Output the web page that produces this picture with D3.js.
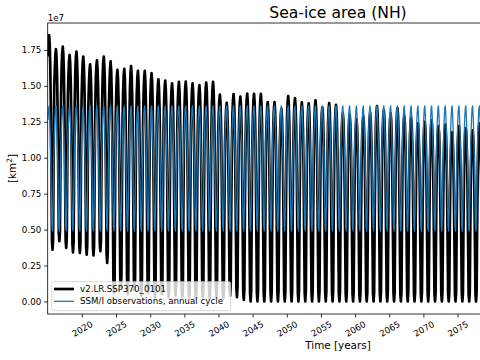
<!DOCTYPE html>
<html><head><meta charset="utf-8">
<script src="https://cdn.jsdelivr.net/npm/d3@7"></script>
<style>
html,body{margin:0;padding:0;background:#fff;}
text{font-family:"DejaVu Sans",sans-serif;}
</style></head>
<body><svg id="c" width="480" height="360"></svg>
<script>
// ---- data ----
const years = d3.range(2015, 2079);
// annual maximum (March) of the model run, units 1e7 km^2
const modelAnnualMax = [1.854,1.755,1.773,1.715,1.738,1.703,1.650,1.678,1.703,1.671,
  1.611,1.618,1.637,1.604,1.604,1.588,1.546,1.537,1.518,1.528,
  1.530,1.518,1.505,1.523,1.528,1.440,1.382,1.442,1.426,1.447,
  1.444,1.444,1.387,1.387,1.340,1.428,1.414,1.385,1.378,1.400,
  1.350,1.380,1.368,1.310,1.300,1.270,1.287,1.310,1.360,1.330,
  1.310,1.345,1.290,1.280,1.240,1.250,1.260,1.220,1.230,1.176,
  1.220,1.205,1.190,1.240];
// annual minimum (September) of the model run, units 1e7 km^2
const modelAnnualMin = [0.360,0.420,0.372,0.342,0.338,0.326,0.320,0.350,0.268,0.060,
  0.100,0.050,0.080,0.040,0.060,0.030,0.050,0.030,0.040,0.030,
  0.030,0.020,0.030,0.020,0.030,0.020,0.040,0.030,0.010,0.000,
  0.000,0.000,0.000,0.000,0.000,0.000,0.000,0.000,0.000,0.000,
  0.000,0.000,0.000,0.000,0.000,0.000,0.000,0.000,0.000,0.000,
  0.000,0.000,0.000,0.000,0.000,0.000,0.000,0.000,0.000,0.000,
  0.000,0.000,0.000,0.000];
// relative position of each month between the annual min and max (Jan..Dec)
const modelSeasonShape = [0.90,0.97,1.00,0.96,0.86,0.66,0.36,0.04,0.00,0.05,0.45,0.76];
// SSM/I observed climatological annual cycle (Jan..Dec), units 1e7 km^2
const obsClimatology = [1.262,1.340,1.361,1.290,1.160,0.990,0.730,0.520,0.490,0.660,0.930,1.140];
const xTicks = [2020,2025,2030,2035,2040,2045,2050,2055,2060,2065,2070,2075];
const yTicks = [0.00,0.25,0.50,0.75,1.00,1.25,1.50,1.75];
const seriesNames = ["v2.LR.SSP370_0101","SSM/I observations, annual cycle"];
const seriesColors = ["#000000","#1f77b4"];

// ---- monthly tables built from the arrays ----
const model = [], obs = [];
years.forEach((yr, i) => {
  for (let m = 0; m < 12; m++) {
    const t = yr + (m + 0.5) / 12;
    model.push({t, v: modelAnnualMin[i] + (modelAnnualMax[i] - modelAnnualMin[i]) * modelSeasonShape[m]});
    obs.push({t, v: obsClimatology[m]});
  }
});

// ---- layout ----
const svg = d3.select("#c");
const L = 47.7, R = 628.3, T = 23, B = 314;
const x = d3.scaleLinear().domain([2015, 2100]).range([L, R]);
const y = d3.scaleLinear().domain([-0.0875, 1.9375]).range([B, T]);

svg.append("defs").append("clipPath").attr("id","clip")
  .append("rect").attr("x",L).attr("y",T).attr("width",R-L).attr("height",B-T);

const line = d3.line().x(d => x(d.t)).y(d => y(d.v));
const g = svg.append("g").attr("clip-path","url(#clip)");
g.append("path").datum(model).attr("d", line).attr("fill","none")
  .attr("stroke", seriesColors[0]).attr("stroke-width", 2.7).attr("stroke-linejoin","round");
g.append("path").datum(obs).attr("d", line).attr("fill","none")
  .attr("stroke", seriesColors[1]).attr("stroke-width", 1.3).attr("stroke-linejoin","round");

// spines
const sp = svg.append("g").attr("stroke","#000").attr("stroke-width",0.8).attr("fill","none");
sp.append("rect").attr("x",L).attr("y",T).attr("width",R-L).attr("height",B-T);

// y axis
const yAx = svg.append("g").attr("transform",`translate(${L},0)`)
  .call(d3.axisLeft(y).tickValues(yTicks).tickFormat(d3.format(".2f")).tickSize(3.5).tickPadding(3));
yAx.select(".domain").remove();
yAx.selectAll("line").attr("stroke","#000").attr("stroke-width",0.8);
yAx.selectAll("text").attr("font-size","8.7px").attr("fill","#000").attr("font-family","DejaVu Sans");

// x axis
const xAx = svg.append("g").attr("transform",`translate(0,${B})`)
  .call(d3.axisBottom(x).tickValues(xTicks).tickFormat(d3.format("d")).tickSize(3.5));
xAx.select(".domain").remove();
xAx.selectAll("line").attr("stroke","#000").attr("stroke-width",0.8);
xAx.selectAll("text").attr("font-size","8.7px").attr("fill","#000").attr("font-family","DejaVu Sans")
  .attr("y",null).attr("dy",null).attr("text-anchor","middle").attr("dominant-baseline","central")
  .attr("transform","translate(0,15) rotate(-30)");

// offset text, title, labels
svg.append("text").attr("x",L).attr("y",20.7).attr("font-size","8.7px").text("1e7");
svg.append("text").attr("x",(L+R)/2).attr("y",18).attr("text-anchor","middle")
  .attr("font-size","15.6px").text("Sea-ice area (NH)");
svg.append("text").attr("x",(L+R)/2).attr("y",349).attr("text-anchor","middle")
  .attr("font-size","10.4px").text("Time [years]");
const yl = svg.append("text").attr("transform",`translate(16,${(T+B)/2}) rotate(-90)`)
  .attr("text-anchor","middle").attr("font-size","10.4px");
yl.append("tspan").text("[km");
yl.append("tspan").attr("font-size","7.3px").attr("dy","-4").text("2");
yl.append("tspan").attr("dy","4").text("]");

// legend
const lg = svg.append("g");
lg.append("rect").attr("x",51.7).attr("y",281.7).attr("width",179).attr("height",29).attr("rx",2)
  .attr("fill","#fff").attr("fill-opacity",0.8).attr("stroke","#ccc").attr("stroke-width",0.8);
seriesNames.forEach((n,i) => {
  const yy = 289 + i*12.3;
  lg.append("line").attr("x1",54).attr("x2",74).attr("y1",yy).attr("y2",yy)
    .attr("stroke",seriesColors[i]).attr("stroke-width", i===0?2.7:1.3);
  lg.append("text").attr("x",80).attr("y",yy).attr("dy","0.35em").attr("font-size","8.7px").text(n);
});
</script></body></html>
